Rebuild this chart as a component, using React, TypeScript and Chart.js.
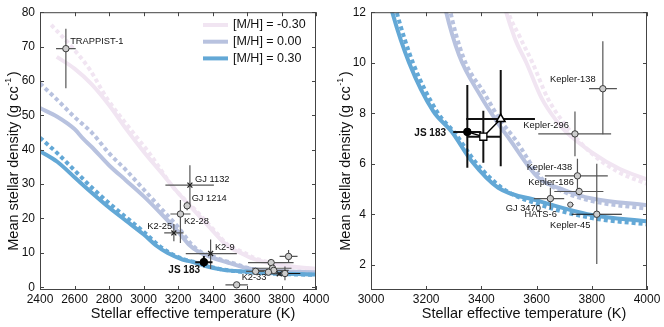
import React, { useEffect, useRef } from 'react';
import { Chart, registerables } from 'chart.js';

Chart.register(...registerables);

const FONT = '"Liberation Sans", Arial, Helvetica, sans-serif';

// ---------- model curves: mean stellar density vs Teff ----------
const legendLabels = ['[M/H] = -0.30', '[M/H] = 0.00', '[M/H] = 0.30'];

const tempMinus030 = [2497, 2600, 2700, 2800, 2900, 3000, 3100, 3200, 3300, 3400, 3470, 3520, 3563, 3618, 3672, 3703, 3800, 3900, 4000];
const rhoMinus030 = [67.0, 63.6, 59.0, 53.0, 46.0, 39.5, 33.5, 27.5, 22.0, 16.5, 12.8, 11.0, 10.0, 8.6, 7.7, 7.3, 6.45, 5.8, 5.38];
const tempMinus030Dash = [2465, 2593, 2690, 2787, 2903, 3038, 3174, 3300, 3420, 3492, 3540, 3585, 3640, 3700, 3800, 3900, 4000];
const rhoMinus030Dash = [76.3, 69.4, 63.2, 55.0, 47.3, 38.7, 29.0, 22.5, 16.0, 12.2, 11.0, 10.0, 8.6, 7.6, 6.4, 5.65, 5.2];

const tempZero = [2400, 2500, 2600, 2650, 2700, 2800, 2900, 3000, 3100, 3200, 3266, 3319, 3395, 3456, 3500, 3606, 3700, 3800, 4000];
const rhoZero = [52.1, 49.6, 46.0, 43.2, 40.8, 35.5, 31.0, 26.5, 21.5, 16.2, 12.3, 10.3, 8.72, 7.67, 7.0, 5.45, 4.96, 4.62, 4.36];
const tempZeroDash = [2400, 2500, 2600, 2700, 2800, 2900, 3000, 3100, 3200, 3282, 3335, 3410, 3470, 3520, 3620, 3700, 3800, 4000];
const rhoZeroDash = [59.3, 54.5, 49.5, 45.0, 39.0, 34.0, 28.5, 23.0, 17.5, 12.3, 10.2, 8.8, 7.7, 7.0, 5.4, 4.88, 4.52, 4.22];

const tempPlus030 = [2400, 2500, 2600, 2700, 2800, 2900, 3000, 3077, 3138, 3226, 3292, 3365, 3461, 3600, 3800, 4000];
const rhoPlus030 = [39.6, 36.5, 32.0, 27.5, 23.2, 19.3, 15.4, 12.0, 10.0, 8.07, 7.28, 6.1, 5.05, 4.55, 3.97, 3.72];
const tempPlus030Dash = [2400, 2500, 2600, 2700, 2800, 2900, 3000, 3093, 3152, 3240, 3305, 3380, 3480, 3600, 3800, 4000];
const rhoPlus030Dash = [43.5, 39.0, 34.0, 29.0, 24.5, 20.3, 16.2, 12.0, 10.0, 8.05, 7.2, 6.05, 5.0, 4.42, 3.85, 3.6];

// ---------- left panel: planet hosts ----------
const leftNames = ['TRAPPIST-1', 'GJ 1132', 'GJ 1214', 'K2-28', 'K2-25', 'K2-9', 'JS 183', 'K2-33', 'Kepler-138', 'Kepler-296', 'Kepler-438', 'Kepler-186', 'GJ 3470', 'HATS-6', 'Kepler-45', 'other'];
const leftTeff = [2550, 3269, 3253, 3214, 3176, 3389, 3350, 3540, 3841, 3740, 3748, 3755, 3650, 3724, 3820, 3787];
const leftRho = [69.4, 29.7, 23.7, 21.3, 15.8, 9.8, 7.3, 0.7, 8.96, 7.17, 5.52, 4.9, 4.62, 4.38, 4.0, 3.9];
const leftTeffLo = [2493, 3127, 3238, 3156, 3120, 3245, 3300, 3475, 3789, 3606, 3630, 3664, 3595, 3712, 3727, 3747];
const leftTeffHi = [2607, 3408, 3268, 3272, 3232, 3541, 3400, 3605, 3893, 3870, 3858, 3842, 3700, 3736, 3909, 3827];
const leftRhoLo = [57.9, 23.5, 22.4, 12.9, 13.4, 5.3, 5.85, 0.5, 7.17, 6.3, 4.9, 4.7, 4.2, 4.33, 2.03, 3.3];
const leftRhoHi = [75.2, 35.5, 25.0, 25.4, 18.4, 13.9, 9.1, 0.9, 10.83, 8.05, 6.2, 5.1, 5.05, 4.43, 6.0, 4.5];
const leftKind = ['open', 'cross', 'open', 'open', 'cross', 'cross', 'js', 'open', 'open', 'open', 'open', 'open', 'open', 'open', 'open', 'cross'];

const leftLabelText = ['TRAPPIST-1', 'GJ 1132', 'GJ 1214', 'K2-28', 'K2-25', 'K2-9', 'JS 183', 'K2-33'];
const leftLabelTeff = [2575, 3299, 3279, 3235, 3022, 3414, 3144, 3569];
const leftLabelRho = [71.5, 31.4, 25.7, 19.2, 17.7, 11.7, 4.8, 2.9];
const leftLabelBold = [false, false, false, false, false, false, true, false];

// ---------- right panel: zoom ----------
const rightNames = ['JS 183', 'JS 183 (alt. 1)', 'JS 183 (alt. 2)', 'Kepler-138', 'Kepler-296', 'Kepler-438', 'Kepler-186', 'GJ 3470', 'HATS-6', 'Kepler-45'];
const rightTeff = [3349, 3407, 3470, 3840, 3739, 3748, 3754, 3650, 3722, 3818];
const rightRho = [7.26, 7.07, 7.77, 8.97, 7.18, 5.52, 4.9, 4.62, 4.38, 4.0];
const rightTeffLo = [3298, 3347, 3345, 3790, 3606, 3630, 3664, 3590, 3712, 3727];
const rightTeffHi = [3400, 3471, 3594, 3891, 3870, 3858, 3842, 3700, 3734, 3909];
const rightRhoLo = [5.84, 6.04, 5.9, 7.17, 6.3, 4.9, 4.75, 4.2, 4.33, 2.03];
const rightRhoHi = [9.12, 8.1, 9.71, 10.85, 8.07, 6.2, 5.05, 5.05, 4.43, 6.0];
const rightKind = ['js', 'jsSquare', 'jsTriangle', 'open', 'open', 'open', 'open', 'open', 'small', 'open'];

const rightLabelText = ['Kepler-138', 'Kepler-296', 'JS 183', 'Kepler-438', 'Kepler-186', 'GJ 3470', 'HATS-6', 'Kepler-45'];
const rightLabelTeff = [3649, 3552, 3157, 3564, 3570, 3488, 3556, 3649];
const rightLabelRho = [9.35, 7.52, 7.22, 5.84, 5.25, 4.24, 4.0, 3.57];
const rightLabelBold = [false, false, true, false, false, false, false, false];

// ---------- styling ----------
const curveColors = ['#f1e5f2', '#b8c2df', '#63a8d6'];
const xTitle = 'Stellar effective temperature (K)';
const yTitleMain = 'Mean stellar density (g cc';
const yTitleSup = '-1';
const yTitleEnd = ')';

type Panel = {
  names: string[];
  xMin: number; xMax: number; xStep: number;
  yMin: number; yMax: number; yStep: number;
  yAxisWidth: number; padRight: number;
  teff: number[]; rho: number[]; teffLo: number[]; teffHi: number[]; rhoLo: number[]; rhoHi: number[];
  kind: string[];
  labelText: string[]; labelTeff: number[]; labelRho: number[]; labelBold: boolean[];
  legend: boolean; connect: number;
};

const leftPanel: Panel = {
  names: leftNames,
  xMin: 2400, xMax: 4000, xStep: 200, yMin: -0.8, yMax: 80, yStep: 10,
  yAxisWidth: 40, padRight: 16,
  teff: leftTeff, rho: leftRho, teffLo: leftTeffLo, teffHi: leftTeffHi, rhoLo: leftRhoLo, rhoHi: leftRhoHi,
  kind: leftKind,
  labelText: leftLabelText, labelTeff: leftLabelTeff, labelRho: leftLabelRho, labelBold: leftLabelBold,
  legend: true, connect: 0,
};

const rightPanel: Panel = {
  names: rightNames,
  xMin: 3000, xMax: 4000, xStep: 200, yMin: 1, yMax: 12, yStep: 2,
  yAxisWidth: 39, padRight: 17,
  teff: rightTeff, rho: rightRho, teffLo: rightTeffLo, teffHi: rightTeffHi, rhoLo: rightRhoLo, rhoHi: rightRhoHi,
  kind: rightKind,
  labelText: rightLabelText, labelTeff: rightLabelTeff, labelRho: rightLabelRho, labelBold: rightLabelBold,
  legend: false, connect: 3,
};

function pts(t: number[], r: number[]) {
  return t.map((x, i) => ({ x, y: r[i] }));
}

function buildConfig(p: Panel): any {
  const curves = [
    { t: tempMinus030Dash, r: rhoMinus030Dash, c: curveColors[0], dash: true },
    { t: tempMinus030, r: rhoMinus030, c: curveColors[0], dash: false },
    { t: tempZeroDash, r: rhoZeroDash, c: curveColors[1], dash: true },
    { t: tempZero, r: rhoZero, c: curveColors[1], dash: false },
    { t: tempPlus030Dash, r: rhoPlus030Dash, c: curveColors[2], dash: true },
    { t: tempPlus030, r: rhoPlus030, c: curveColors[2], dash: false },
  ];
  const curveSets = curves.reverse().map((c) => ({
    data: pts(c.t, c.r),
    borderColor: c.c,
    borderWidth: 4,
    borderDash: c.dash ? [4, 3] : [],
    pointRadius: 0,
    cubicInterpolationMode: 'monotone',
    fill: false,
    clip: 0,
  }));

  const styleOf = (k: string) => {
    switch (k) {
      case 'js': return { s: 'circle', r: 3.8, bg: '#000', bc: '#000', bw: 1 };
      case 'jsSquare': return { s: 'rect', r: 5, bg: '#fff', bc: '#000', bw: 1.3 };
      case 'jsTriangle': return { s: 'triangle', r: 5, bg: '#fff', bc: '#000', bw: 1.5 };
      case 'cross': return { s: 'crossRot', r: 3.5, bg: '#333', bc: '#222', bw: 1.3 };
      case 'small': return { s: 'circle', r: 2.6, bg: '#cfcfcf', bc: '#444', bw: 1 };
      default: return { s: 'circle', r: 3.2, bg: '#cdcdcd', bc: '#3a3a3a', bw: 1 };
    }
  };
  const st = p.kind.map(styleOf);

  const markerSet = {
    data: pts(p.teff, p.rho),
    showLine: false,
    pointStyle: st.map((s) => s.s),
    pointRadius: st.map((s) => s.r),
    pointBackgroundColor: st.map((s) => s.bg),
    pointBorderColor: st.map((s) => s.bc),
    pointBorderWidth: st.map((s) => s.bw),
    clip: 0,
  };

  const datasets: any[] = [markerSet];
  if (p.connect > 0) {
    datasets.push({
      data: pts(p.teff.slice(0, p.connect), p.rho.slice(0, p.connect)),
      borderColor: '#000',
      borderWidth: 1.5,
      pointRadius: 0,
      tension: 0,
      clip: 0,
    });
  }
  datasets.push(...curveSets);

  const errorBars = {
    id: 'errorBars',
    beforeDatasetDraw(chart: any, args: any) {
      if (args.index !== 0) return;
      const { ctx, chartArea: a, scales } = chart;
      const x = scales.x, y = scales.y;
      ctx.save();
      ctx.beginPath();
      ctx.rect(a.left, a.top, a.right - a.left, a.bottom - a.top);
      ctx.clip();
      p.teff.forEach((t, i) => {
        const k = p.kind[i];
        const strong = k.startsWith('js');
        const px = x.getPixelForValue(t), py = y.getPixelForValue(p.rho[i]);
        ctx.lineWidth = strong ? 2 : 1.2;
        ctx.strokeStyle = strong ? '#111' : '#555';
        ctx.beginPath();
        ctx.moveTo(px, y.getPixelForValue(p.rhoLo[i]));
        ctx.lineTo(px, y.getPixelForValue(p.rhoHi[i]));
        ctx.stroke();
        if (p.names[i] === 'Kepler-45') ctx.strokeStyle = '#111';
        ctx.beginPath();
        ctx.moveTo(x.getPixelForValue(p.teffLo[i]), py);
        ctx.lineTo(x.getPixelForValue(p.teffHi[i]), py);
        ctx.stroke();
      });
      ctx.restore();
    },
  };

  const decorations = {
    id: 'decorations',
    afterDraw(chart: any) {
      const { ctx, chartArea: a, scales } = chart;
      const x = scales.x, y = scales.y;
      ctx.save();
      // point labels
      ctx.fillStyle = '#111';
      ctx.textAlign = 'left';
      ctx.textBaseline = 'middle';
      p.labelText.forEach((txt, i) => {
        ctx.font = (p.labelBold[i] ? 'bold 10px ' : '9.3px ') + FONT;
        ctx.fillText(txt, x.getPixelForValue(p.labelTeff[i]), y.getPixelForValue(p.labelRho[i]));
      });
      // frame and inward ticks
      ctx.strokeStyle = '#444';
      ctx.lineWidth = 1;
      ctx.strokeRect(a.left + 0.5, a.top + 0.5, a.right - a.left - 1, a.bottom - a.top - 1);
      ctx.beginPath();
      x.ticks.forEach((tk: any) => {
        const px = Math.round(x.getPixelForValue(tk.value)) + 0.5;
        ctx.moveTo(px, a.bottom); ctx.lineTo(px, a.bottom - 4);
        ctx.moveTo(px, a.top); ctx.lineTo(px, a.top + 4);
      });
      y.ticks.forEach((tk: any) => {
        const py = Math.round(y.getPixelForValue(tk.value)) + 0.5;
        ctx.moveTo(a.left, py); ctx.lineTo(a.left + 4, py);
        ctx.moveTo(a.right, py); ctx.lineTo(a.right - 4, py);
      });
      ctx.stroke();
      // axis titles
      ctx.fillStyle = '#111';
      ctx.font = '14.5px ' + FONT;
      ctx.textAlign = 'center';
      ctx.textBaseline = 'middle';
      ctx.fillText(xTitle, (a.left + a.right) / 2 + 15, 314);
      ctx.translate(14, (a.top + a.bottom) / 2 + 10);
      ctx.rotate(-Math.PI / 2);
      ctx.textAlign = 'left';
      const supFont = '9px ' + FONT;
      const mainFont = '14.5px ' + FONT;
      ctx.font = mainFont;
      const w1 = ctx.measureText(yTitleMain).width;
      const w3 = ctx.measureText(yTitleEnd).width;
      ctx.font = supFont;
      const w2 = ctx.measureText(yTitleSup).width + 2;
      const start = -(w1 + w2 + w3) / 2;
      ctx.font = mainFont;
      ctx.fillText(yTitleMain, start, 0);
      ctx.font = supFont;
      ctx.fillText(yTitleSup, start + w1 + 0.5, -5);
      ctx.font = mainFont;
      ctx.fillText(yTitleEnd, start + w1 + w2, 0);
      ctx.restore();
      // legend
      if (p.legend) {
        ctx.save();
        ctx.font = '12.5px ' + FONT;
        ctx.textBaseline = 'middle';
        ctx.textAlign = 'left';
        legendLabels.forEach((lab, i) => {
          const ly = 25 + i * 16.7;
          ctx.strokeStyle = curveColors[i];
          ctx.lineWidth = 4;
          ctx.beginPath();
          ctx.moveTo(203, ly);
          ctx.lineTo(228, ly);
          ctx.stroke();
          ctx.fillStyle = '#111';
          ctx.fillText(lab, 233, ly);
        });
        ctx.restore();
      }
    },
  };

  const plain = (v: any) => String(v);

  return {
    type: 'line',
    data: { datasets },
    options: {
      animation: false,
      responsive: false,
      events: [],
      layout: { padding: { left: 0, right: p.padRight, top: 10, bottom: 0 } },
      plugins: { legend: { display: false }, tooltip: { enabled: false } },
      scales: {
        x: {
          type: 'linear', min: p.xMin, max: p.xMax,
          afterFit: (s: any) => { s.height = 37; },
          grid: { display: false, drawTicks: false },
          border: { display: false },
          ticks: { stepSize: p.xStep, autoSkip: false, maxRotation: 0, includeBounds: false, padding: 2, color: '#111', font: { family: FONT, size: 12 }, callback: plain },
        },
        y: {
          type: 'linear', min: p.yMin, max: p.yMax,
          afterFit: (s: any) => { s.width = p.yAxisWidth; },
          grid: { display: false, drawTicks: false },
          border: { display: false },
          ticks: { stepSize: p.yStep, includeBounds: false, padding: 5, color: '#111', font: { family: FONT, size: 12 }, callback: plain },
        },
      },
    },
    plugins: [errorBars, decorations],
  };
}

export default function App() {
  const leftRef = useRef<HTMLCanvasElement>(null);
  const rightRef = useRef<HTMLCanvasElement>(null);
  useEffect(() => {
    const a = new Chart(leftRef.current as HTMLCanvasElement, buildConfig(leftPanel));
    const b = new Chart(rightRef.current as HTMLCanvasElement, buildConfig(rightPanel));
    return () => { a.destroy(); b.destroy(); };
  }, []);
  return (
    <div style={{ position: 'absolute', left: 0, top: 0, width: 664, height: 327, display: 'flex', background: '#fff' }}>
      <canvas ref={leftRef} width={332} height={327} style={{ display: 'block', width: 332, height: 327 }} />
      <canvas ref={rightRef} width={332} height={327} style={{ display: 'block', width: 332, height: 327 }} />
    </div>
  );
}
